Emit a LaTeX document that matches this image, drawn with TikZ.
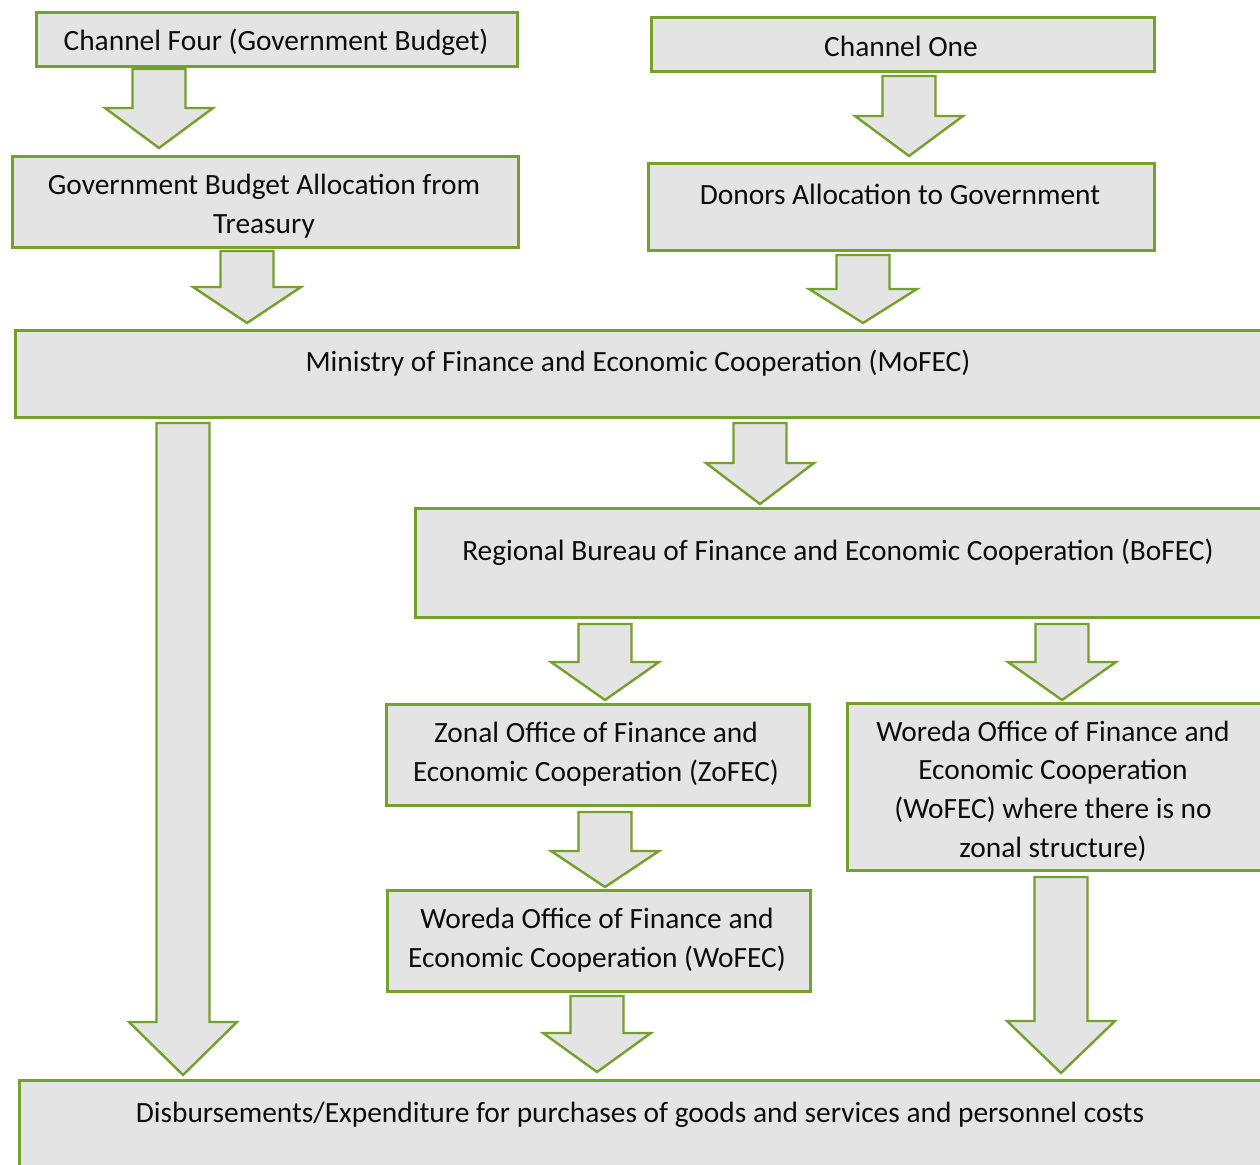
\documentclass[tikz,border=0pt]{standalone}
\usepackage{fontspec}
\setmainfont{Carlito}
\usetikzlibrary{calc}
\definecolor{grn}{RGB}{116,160,44}
\definecolor{boxfill}{RGB}{228,228,228}
\newcommand\bx[5]{\node[box,minimum width=#4*0.5pt,minimum height=#5*0.5pt] (#1) at (#2,#3) {};}
\newcommand\barr[3]{\draw[barrow] ($(#1)+(-26.5,0)$) -- ($(#1)+(26.5,0)$) -- ($(#2)+(26.5,-#3)$) -- ($(#2)+(54,-#3)$) -- (#2) -- ($(#2)+(-54,-#3)$) -- ($(#2)+(-26.5,-#3)$) -- cycle;}
\begin{document}
\begin{tikzpicture}[x=0.5pt,y=-0.5pt,
 box/.style={draw=grn, line width=1.4pt, fill=boxfill, rectangle, inner sep=0pt, anchor=north west},
 txt/.style={font=\fontsize{14.7}{19.5}\selectfont, align=center, anchor=base, inner sep=0pt, text=black!95},
 barrow/.style={draw=grn, line width=1.2pt, fill=boxfill, line join=miter}]
\useasboundingbox (0,0) rectangle (1260,1165);
\clip (0,0) rectangle (1260,1165);
% boxes
\bx{c4}{35}{11}{481}{54}
\bx{c1}{650}{16}{503}{54}
\bx{gba}{11}{155}{506}{91}
\bx{don}{647}{162}{506}{87}
\bx{mof}{14}{329}{1250}{87}
\bx{bof}{414}{507}{850}{109}
\bx{zof}{385}{703}{423}{101}
\bx{wofr}{846}{702}{418}{167}
\bx{wofl}{386}{889}{423}{101}
\bx{dis}{18}{1079}{1246}{110}
% texts (anchor base = baseline of last line)
\node[txt] (c4t) at (276,51) {Channel Four (Government Budget)};
\node[txt] (c1t) at (901,57) {Channel One};
\node[txt] (gbat) at (264,234) {Government Budget Allocation from\\Treasury};
\node[txt] (dont) at (900,205) {Donors Allocation to Government};
\node[txt] (moft) at (638,372) {Ministry of Finance and Economic Cooperation (MoFEC)};
\node[txt] (boft) at (838,561) {Regional Bureau of Finance and Economic Cooperation (BoFEC)};
\node[txt] (zoft) at (596,782) {Zonal Office of Finance and\\Economic Cooperation (ZoFEC)};
\node[txt] (wofrt) at (1053,858) {Woreda Office of Finance and\\Economic Cooperation\\(WoFEC) where there is no\\zonal structure)};
\node[txt] (woflt) at (597,968) {Woreda Office of Finance and\\Economic Cooperation (WoFEC)};
\node[txt] (dist) at (640,1123) {Disbursements/Expenditure for purchases of goods and services and personnel costs};
% arrow endpoints
\coordinate (a1s) at (159,69);   \coordinate (a1e) at (159,148);
\coordinate (a2s) at (909,76);   \coordinate (a2e) at (909,156);
\coordinate (a3s) at (247,251);  \coordinate (a3e) at (247,323);
\coordinate (a4s) at (863,255);  \coordinate (a4e) at (863,323);
\coordinate (a5s) at (760,423);  \coordinate (a5e) at (760,504);
\coordinate (a6s) at (605,624);  \coordinate (a6e) at (605,700);
\coordinate (a7s) at (1062,624); \coordinate (a7e) at (1062,700);
\coordinate (a8s) at (605,812);  \coordinate (a8e) at (605,887);
\coordinate (a9s) at (183,423);  \coordinate (a9e) at (183,1075);
\coordinate (a10s) at (597,996); \coordinate (a10e) at (597,1072);
\coordinate (a11s) at (1061,877);\coordinate (a11e) at (1061,1073);
\barr{a1s}{a1e}{40}
\barr{a2s}{a2e}{40}
\barr{a3s}{a3e}{36}
\barr{a4s}{a4e}{34}
\barr{a5s}{a5e}{41}
\barr{a6s}{a6e}{38}
\barr{a7s}{a7e}{38}
\barr{a8s}{a8e}{36}
\barr{a9s}{a9e}{53}
\barr{a10s}{a10e}{39}
\barr{a11s}{a11e}{52}
\end{tikzpicture}
\end{document}
